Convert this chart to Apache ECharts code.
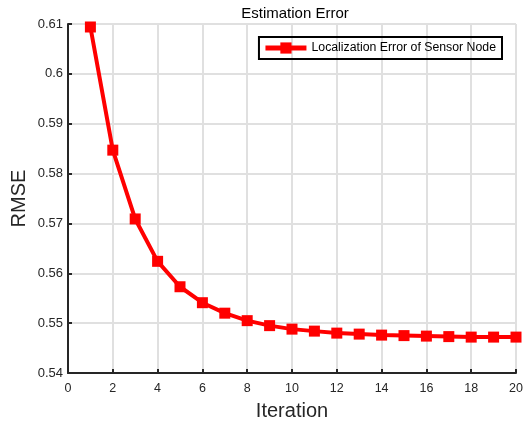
<!DOCTYPE html>
<html>
<head>
<meta charset="utf-8">
<script src="https://cdn.jsdelivr.net/npm/echarts@6/dist/echarts.min.js"></script>
<style>
  html, body { margin: 0; padding: 0; background: #fff; }
  #chart { width: 523px; height: 423px; }
</style>
</head>
<body>
<div id="chart"></div>
<script>
const iterations = [1, 2, 3, 4, 5, 6, 7, 8, 9, 10, 11, 12, 13, 14, 15, 16, 17, 18, 19, 20];
const rmse = [0.6094, 0.5847, 0.5709, 0.5624, 0.5573, 0.5541, 0.5520, 0.5505, 0.5495, 0.5488,
              0.5484, 0.5480, 0.5478, 0.5476, 0.5475, 0.5474, 0.5473, 0.5472, 0.5472, 0.5472];
const seriesName = "Localization Error of Sensor Node";

const font = '"Liberation Sans", Arial, sans-serif';
const chart = echarts.init(document.getElementById("chart"));

chart.setOption({
  backgroundColor: "#fff",
  animation: false,
  title: {
    text: "Estimation Error",
    left: 290,
    textAlign: "center",
    top: 1,
    textStyle: { fontFamily: font, fontSize: 15, fontWeight: "normal", color: "#000" },
  },
  legend: {
    right: 21,
    top: 37,
    orient: "vertical",
    borderColor: "#000",
    borderWidth: 2,
    padding: [5, 6, 5, 4],
    itemWidth: 41,
    itemHeight: 14,
    itemGap: 4,
    lineStyle: { width: 5 },
    textStyle: { fontFamily: font, fontSize: 12.3, color: "#000" },
    data: [seriesName],
  },
  grid: { left: 68, right: 7, top: 24, bottom: 50, outerBoundsMode: "none", containLabel: false },
  xAxis: {
    type: "value",
    min: 0,
    max: 20,
    interval: 2,
    name: "Iteration",
    nameLocation: "middle",
    nameGap: 28,
    nameMoveOverlap: false,
    nameTextStyle: { fontFamily: font, fontSize: 20, color: "#262626" },
    axisLine: { lineStyle: { color: "#262626", width: 2 } },
    axisTick: { inside: true, length: 4, lineStyle: { color: "#262626", width: 2 } },
    axisLabel: { fontFamily: font, fontSize: 12.5, color: "#262626", margin: 9 },
    splitLine: { show: true, lineStyle: { color: "#e0e0e0", width: 2 } },
  },
  yAxis: {
    type: "value",
    min: 0.54,
    max: 0.61,
    interval: 0.01,
    name: "RMSE",
    nameLocation: "middle",
    nameGap: 39,
    nameMoveOverlap: false,
    nameTextStyle: { fontFamily: font, fontSize: 20, color: "#262626" },
    axisLine: { show: true, lineStyle: { color: "#262626", width: 2 } },
    axisTick: { show: true, inside: true, length: 4, lineStyle: { color: "#262626", width: 2 } },
    axisLabel: {
      fontFamily: font, fontSize: 13, color: "#262626", margin: 5,
      formatter: (v) => String(parseFloat(v.toFixed(2))),
    },
    splitLine: { show: true, lineStyle: { color: "#e0e0e0", width: 2 } },
  },
  series: [{
    name: seriesName,
    type: "line",
    data: iterations.map((x, i) => [x, rmse[i]]),
    symbol: "rect",
    symbolSize: 11,
    color: "#ff0000",
    lineStyle: { width: 4, color: "#ff0000" },
    itemStyle: { color: "#ff0000" },
    clip: false,
  }],
});
</script>
</body>
</html>
